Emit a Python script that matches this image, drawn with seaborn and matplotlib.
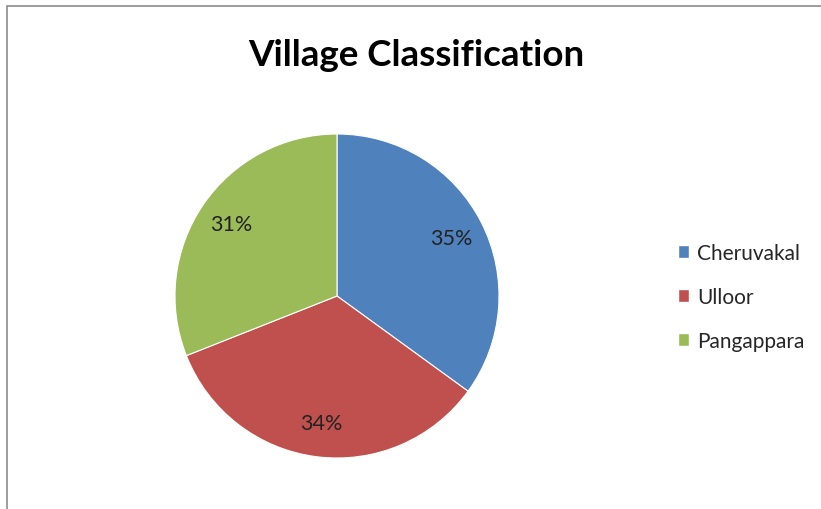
import matplotlib
matplotlib.use("Agg")
import matplotlib.pyplot as plt
from matplotlib.patches import Rectangle
import seaborn as sns

villages = ["Cheruvakal", "Ulloor", "Pangappara"]
shares = [35, 34, 31]
colors = ["#4F81BD", "#C0504D", "#9BBB59"]

sns.set_theme(style="white")
plt.rcParams['font.family'] = ['Lato', 'DejaVu Sans']

fig = plt.figure(figsize=(8.21, 5.10), dpi=100)
W, H = 821, 510

# chart frame (only left and top edges fall inside the picture)
fig.patches.append(Rectangle((6.5 / W, -0.2), 1.2, 1.2 - 7 / H, transform=fig.transFigure,
                             fill=False, edgecolor="#8c8c8c", linewidth=1.2))

# pie area: centre (337, 297), radius ~161 px
r = 162
ax = fig.add_axes([(337 - r) / W, 1 - (297 + r) / H, 2 * r / W, 2 * r / H])
wedges, texts, autotexts = ax.pie(shares, colors=colors, startangle=90, counterclock=False,
                                  autopct="%d%%", pctdistance=0.79,
                                  wedgeprops=dict(edgecolor="white", linewidth=0.8),
                                  textprops=dict(fontsize=15.5, color="#222222"))
ax.set_xlim(-1, 1)
ax.set_ylim(-1, 1)
ax.set_aspect("equal")

fig.text(416 / W, 1 - 55 / H, "Village Classification", ha="center", va="center",
         fontsize=26.5, fontweight="bold", color="black")

handles = [Rectangle((0, 0), 1, 1, facecolor=c) for c in colors]
fig.legend(handles, villages, loc="center left", bbox_to_anchor=(678 / W, 1 - 298 / H),
           frameon=False, fontsize=15, handlelength=0.55, handleheight=0.55,
           handletextpad=0.35, labelspacing=1.15, borderpad=0, borderaxespad=0)

fig.savefig("out.png", dpi=100, facecolor="white")
